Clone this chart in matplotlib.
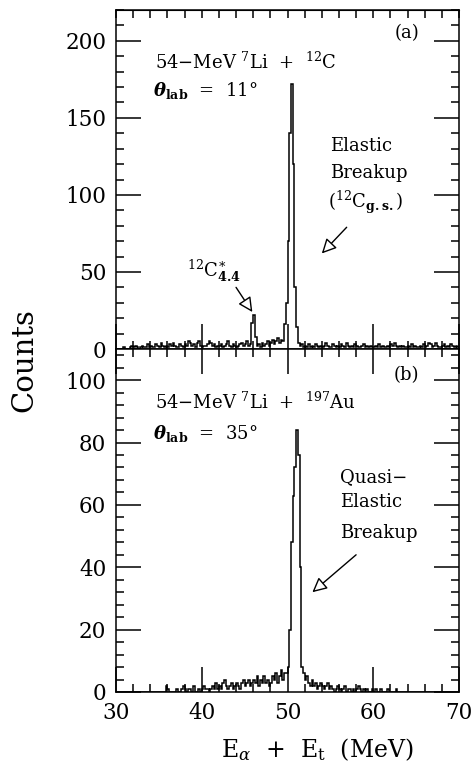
import numpy as np
import matplotlib
matplotlib.use("Agg")
import matplotlib.pyplot as plt
from matplotlib.ticker import MultipleLocator

plt.rcParams['font.family'] = ['DejaVu Serif']
plt.rcParams['mathtext.fontset'] = 'dejavuserif'

# spectra, counts per 0.2 MeV bin from 30 to 70 MeV (10 bins per row = 2 MeV)
e_min, e_max, bin_w = 30.0, 70.0, 0.2

counts_c12 = [
    0, 0, 0, 0, 1, 0, 0, 0, 1, 2,        # 30-32
    1, 2, 1, 0, 1, 2, 1, 1, 3, 1,        # 32-34
    2, 1, 1, 3, 2, 1, 4, 2, 1, 2,        # 34-36
    1, 3, 2, 4, 2, 1, 1, 3, 2, 1,        # 36-38
    3, 2, 5, 4, 2, 3, 1, 4, 5, 2,        # 38-40
    1, 2, 2, 3, 5, 4, 2, 3, 1, 2,        # 40-42
    2, 3, 1, 2, 3, 5, 2, 1, 3, 2,        # 42-44
    1, 2, 3, 4, 2, 3, 5, 2, 3, 17,       # 44-46
    22, 8, 2, 3, 1, 4, 2, 3, 5, 2,       # 46-48
    4, 6, 3, 5, 7, 4, 6, 5, 16, 30,      # 48-50
    70, 140, 172, 120, 40, 14, 4, 2, 3, 1,   # 50-52
    2, 1, 3, 1, 2, 1, 3, 2, 1, 2,        # 52-54
    1, 2, 4, 2, 1, 1, 3, 2, 1, 2,        # 54-56
    1, 3, 2, 1, 4, 2, 1, 2, 1, 3,        # 56-58
    2, 1, 1, 2, 3, 1, 2, 1, 2, 1,        # 58-60
    1, 2, 1, 3, 1, 2, 1, 1, 2, 1,        # 60-62
    3, 2, 4, 2, 1, 2, 1, 2, 1, 1,        # 62-64
    2, 1, 3, 1, 2, 1, 1, 2, 1, 3,        # 64-66
    1, 2, 4, 3, 1, 2, 4, 2, 1, 1,        # 66-68
    2, 3, 1, 2, 1, 3, 2, 1, 2, 1,        # 68-70
]

counts_au197 = [
    0, 0, 0, 0, 0, 0, 0, 0, 0, 0,        # 30-32
    0, 0, 0, 0, 0, 0, 0, 0, 0, 0,        # 32-34
    0, 0, 0, 0, 0, 0, 0, 0, 0, 2,        # 34-36
    1, 0, 0, 0, 0, 1, 0, 0, 1, 2,        # 36-38
    1, 0, 1, 1, 0, 2, 0, 0, 1, 0,        # 38-40
    1, 2, 1, 1, 0, 1, 2, 1, 3, 1,        # 40-42
    2, 1, 3, 4, 2, 1, 2, 3, 1, 2,        # 42-44
    3, 2, 1, 3, 4, 2, 3, 4, 2, 3,        # 44-46
    4, 3, 5, 2, 4, 3, 5, 3, 4, 2,        # 46-48
    3, 5, 4, 6, 3, 5, 7, 4, 6, 6,        # 48-50
    8, 20, 48, 63, 72, 84, 76, 40, 8, 6,     # 50-52
    4, 5, 3, 2, 4, 2, 3, 1, 2, 3,        # 52-54
    2, 1, 2, 3, 1, 2, 1, 0, 1, 2,        # 54-56
    1, 0, 1, 2, 0, 1, 1, 0, 1, 0,        # 56-58
    1, 2, 1, 0, 1, 0, 1, 0, 0, 1,        # 58-60
    0, 1, 0, 0, 1, 0, 0, 0, 1, 0,        # 60-62
    0, 0, 0, 1, 0, 0, 0, 0, 0, 0,        # 62-64
    0, 0, 0, 0, 0, 0, 0, 0, 0, 0,        # 64-66
    0, 0, 0, 0, 0, 0, 0, 0, 0, 0,        # 66-68
    0, 0, 0, 0, 0, 0, 0, 0, 0, 0,        # 68-70
]

edges = np.arange(len(counts_c12) + 1) * bin_w + e_min

W, H = 471, 763
fig = plt.figure(figsize=(W / 100, H / 100), dpi=100)
left, right = 116, 459
ax1 = fig.add_axes([left / W, 1 - 349 / H, (right - left) / W, (349 - 10) / H])
ax2 = fig.add_axes([left / W, 1 - 692 / H, (right - left) / W, (692 - 349) / H])

for ax, counts, ymax, ymaj, ymin in [(ax1, counts_c12, 220, 50, 10),
                                      (ax2, counts_au197, 110, 20, 4)]:
    ax.stairs(counts, edges, color='black', lw=1.1, baseline=None)
    ax.set_xlim(e_min, e_max)
    ax.set_ylim(0, ymax)
    ax.xaxis.set_major_locator(MultipleLocator(10))
    ax.xaxis.set_minor_locator(MultipleLocator(2))
    ax.yaxis.set_major_locator(MultipleLocator(ymaj))
    ax.yaxis.set_minor_locator(MultipleLocator(ymin))
    ax.tick_params(which='both', direction='in', top=True, right=True,
                   width=1.1, labelsize=15.5, pad=7)
    ax.tick_params(which='major', length=18)
    ax.tick_params(which='minor', length=6)
    for s in ax.spines.values():
        s.set_linewidth(1.1)

ax1.tick_params(labelbottom=False, top=False, which='both')
ax2.set_yticks([0, 20, 40, 60, 80, 100])
ax1.set_yticks([0, 50, 100, 150, 200])

# short ticks along the very top frame
top = ax1.secondary_xaxis('top')
top.xaxis.set_major_locator(MultipleLocator(10))
top.xaxis.set_minor_locator(MultipleLocator(2))
top.tick_params(which='both', direction='in', length=6, width=1.1,
                labeltop=False)

fs = 13
# panel (a)
ax1.text(63.9, 205, '(a)', fontsize=fs, ha='center', va='center')
ax1.text(34.55, 186, '54\u2212MeV $^{7}$Li  +  $^{12}$C', fontsize=fs, va='center')
ax1.text(34.3, 168, r'$\mathbfit{\theta}_{\mathbf{lab}}$  =  11$\degree$',
         fontsize=fs, va='center')
ax1.text(54.95, 132, 'Elastic', fontsize=fs, va='center')
ax1.text(54.95, 114, 'Breakup', fontsize=fs, va='center')
ax1.text(54.7, 95, r'($^{12}$C$_{\mathbf{g.s.}}$)', fontsize=fs, va='center')
ax1.text(38.3, 51, r'$^{12}$C$^{\ast}_{\mathbf{4.4}}$', fontsize=fs, va='center')

arrow = dict(arrowstyle='-|>', fc='white', ec='black', lw=1.0,
             mutation_scale=22, shrinkA=0, shrinkB=0)
ax1.annotate('', xy=(54.0, 62), xytext=(56.9, 79), arrowprops=arrow)
ax1.annotate('', xy=(45.9, 24), xytext=(44.0, 40), arrowprops=arrow)

# panel (b)
ax2.text(63.9, 101.5, '(b)', fontsize=fs, ha='center', va='center')
ax2.text(34.55, 93, '54\u2212MeV $^{7}$Li  +  $^{197}$Au', fontsize=fs, va='center')
ax2.text(34.3, 83, r'$\mathbfit{\theta}_{\mathbf{lab}}$  =  35$\degree$',
         fontsize=fs, va='center')
ax2.text(56.1, 69, 'Quasi\u2212', fontsize=fs, va='center')
ax2.text(56.1, 61, 'Elastic', fontsize=fs, va='center')
ax2.text(56.1, 51, 'Breakup', fontsize=fs, va='center')
ax2.annotate('', xy=(52.9, 32), xytext=(58.0, 44), arrowprops=arrow)

fig.text(317 / W, 1 - 750 / H, r'E$_{\alpha}$  +  E$_{\rm t}$  (MeV)',
         fontsize=17, ha='center', va='center')
fig.text(24 / W, 1 - 360 / H, 'Counts', fontsize=21, rotation=90,
         ha='center', va='center')

fig.savefig('out.png', dpi=100)
